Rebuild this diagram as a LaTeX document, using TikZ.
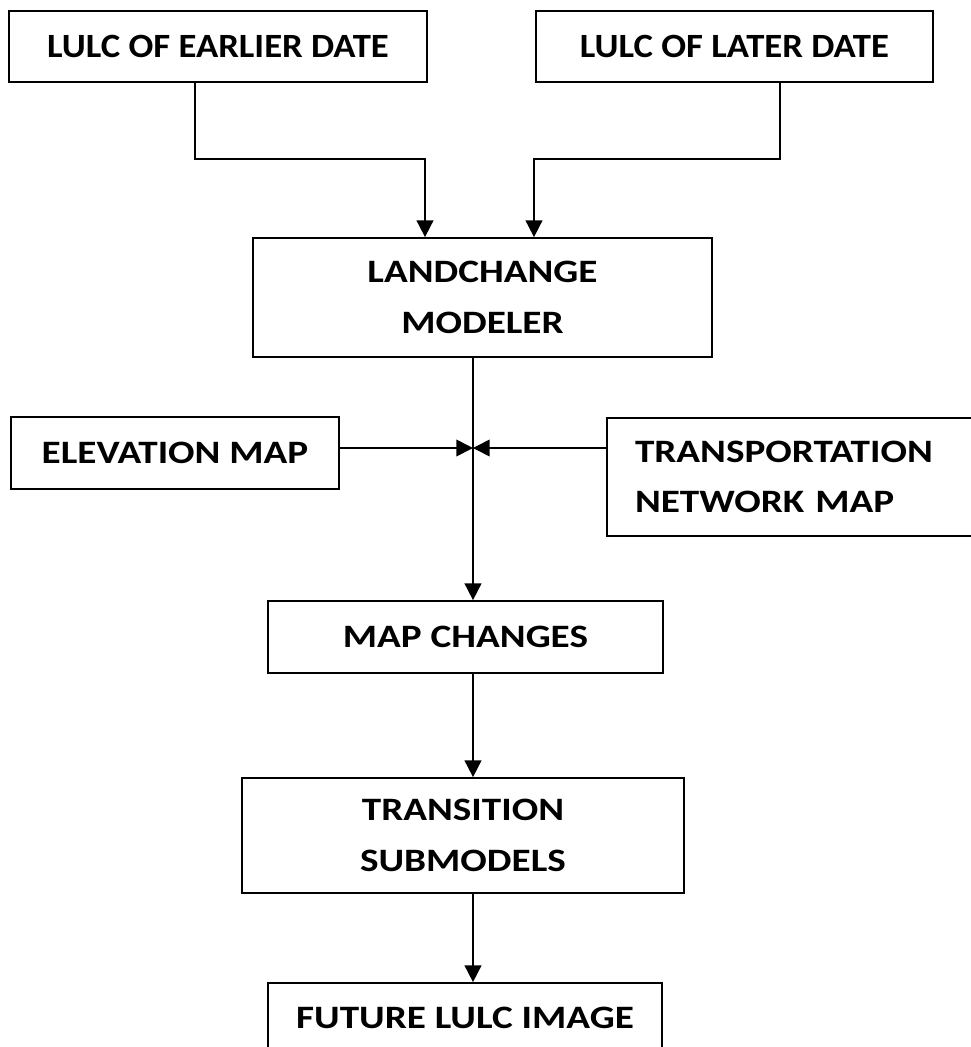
\documentclass[tikz,border=0pt]{standalone}
\usepackage{fontspec}
\usetikzlibrary{arrows.meta}
\newfontfamily\topfont{Carlito Bold}[FakeStretch=1.08]
\newfontfamily\midfont{Carlito Bold}[FakeStretch=1.2]

\begin{document}
\begin{tikzpicture}[x=0.75pt,y=0.75pt,yscale=-1,xscale=1,
  box/.style={draw,line width=1.3pt,inner sep=0pt,align=center},
  topbox/.style={box,minimum height=53.25pt,font=\topfont\fontsize{25.5}{30}\selectfont},
  midbox/.style={box,font=\midfont\fontsize{24.5}{38}\selectfont},
  flow/.style={line width=1.3pt,-{Triangle[length=12.5pt,width=12.5pt]}}]
\useasboundingbox (0,0) rectangle (971,1047);
\clip (0,0) rectangle (971,1047);

%Shape: Rectangle [id:early]
\node (early) at (218,46.5) [topbox,minimum width=313.5pt] {LULC OF EARLIER DATE};
%Shape: Rectangle [id:later]
\node (later) at (734.5,46.5) [topbox,minimum width=297.75pt] {LULC OF LATER DATE};
%Shape: Rectangle [id:lcm]
\node (lcm) at (482.5,297.5) [midbox,minimum width=344.25pt,minimum height=89.25pt] {LANDCHANGE\\MODELER};
%Shape: Rectangle [id:elev]
\node (elev) at (175,453) [midbox,minimum width=246pt,minimum height=54pt] {ELEVATION MAP};
%Shape: Rectangle [id:trans]
\node (trans) at (801,477) [midbox,align=left,inner xsep=21pt,text width=249pt,minimum height=88.5pt] {TRANSPORTATION\\NETWORK MAP};
%Shape: Rectangle [id:mapch]
\node (mapch) at (465.5,637) [midbox,minimum width=296.25pt,minimum height=54pt] {MAP CHANGES};
%Shape: Rectangle [id:trsub]
\node (trsub) at (463,835.5) [midbox,minimum width=331.5pt,minimum height=86.25pt] {TRANSITION\\SUBMODELS};
%Shape: Rectangle [id:future]
\node (future) at (465,1017.5) [midbox,minimum width=295.5pt,minimum height=51.75pt] {FUTURE LULC IMAGE};

%Coordinates for the bends
\coordinate (elbowL) at (195,159);
\coordinate (elbowR) at (780,159);
\coordinate (dropL) at (425,0);
\coordinate (dropR) at (534,0);
\coordinate (spine) at (473,0);
\coordinate (junc) at (473,448);

%Straight Lines [id:early-lcm]
\draw [flow] (elbowL |- early.south) -- (elbowL) -| (dropL |- lcm.north);
%Straight Lines [id:later-lcm]
\draw [flow] (elbowR |- later.south) -- (elbowR) -| (dropR |- lcm.north);
%Straight Lines [id:lcm-mapch]
\draw [flow] (spine |- lcm.south) -- (spine |- mapch.north);
%Straight Lines [id:elev-junc]
\draw [flow] (elev.east |- junc) -- (junc);
%Straight Lines [id:trans-junc]
\draw [flow] (trans.west |- junc) -- (junc);
%Straight Lines [id:mapch-trsub]
\draw [flow] (spine |- mapch.south) -- (spine |- trsub.north);
%Straight Lines [id:trsub-future]
\draw [flow] (spine |- trsub.south) -- (spine |- future.north);

\end{tikzpicture}
\end{document}
